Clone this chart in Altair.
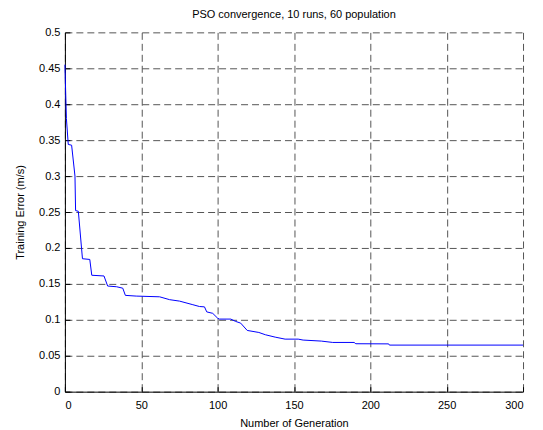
import altair as alt
import pandas as pd

# Generation index and best training error
generation = [0, 1, 2.2, 4.4, 6.6, 7, 8.8, 11.5, 16.3, 17.6, 25.6, 28, 33.9, 37.9,
              39.6, 46.7, 62, 68.6, 75.1, 83.8, 88.1, 91.4, 92.9, 96.8, 100, 101.1,
              108.6, 111.9, 115.1, 119.4, 127, 131.3, 137.7, 144.2, 152.8, 156,
              167.9, 175.4, 189.4, 190.5, 212, 212.5, 300]
error = [0.455, 0.38, 0.344, 0.343, 0.300, 0.252, 0.251, 0.185, 0.184, 0.162, 0.161,
         0.147, 0.146, 0.144, 0.134, 0.133, 0.132, 0.128, 0.126, 0.121, 0.1185, 0.118,
         0.111, 0.109, 0.1023, 0.101, 0.101, 0.0977, 0.0954, 0.0852, 0.0824, 0.0792,
         0.0759, 0.0731, 0.0731, 0.0718, 0.0704, 0.0685, 0.0685, 0.0667, 0.0665,
         0.0648, 0.0648]

x_ticks = [0, 50, 100, 150, 200, 250, 300]
y_ticks = [0, 0.05, 0.1, 0.15, 0.2, 0.25, 0.3, 0.35, 0.4, 0.45, 0.5]

df = pd.DataFrame({"gen": generation, "err": error})

FONT = "Liberation Sans"
x_scale = alt.Scale(domain=[0, 300], nice=False, zero=False)
y_scale = alt.Scale(domain=[0, 0.5], nice=False, zero=False)

# Layer carrying the main axes (domain, labels, dashed grid)
main = alt.Chart(df).mark_line(color="#0000FF", strokeWidth=1, interpolate="linear").encode(
    x=alt.X("gen:Q", scale=x_scale, title="Number of Generation",
            axis=alt.Axis(orient="bottom", values=x_ticks, ticks=False, tickSize=0,
                          domain=True, domainColor="#000", domainWidth=1,
                          labels=True, labelPadding=8, labelFont=FONT, labelFontSize=11,
                          labelColor="#000", labelAngle=0,
                          grid=True, gridDash=[7, 4], gridColor="#555", gridWidth=1,
                          titleFont=FONT, titleFontSize=11, titleFontWeight="normal",
                          titleColor="#000", titlePadding=7)),
    y=alt.Y("err:Q", scale=y_scale, title="Training Error (m/s)",
            axis=alt.Axis(orient="left", values=y_ticks, format="~g", ticks=False, tickSize=0,
                          domain=True, domainColor="#000", domainWidth=1,
                          labels=True, labelPadding=5, labelFont=FONT, labelFontSize=11,
                          labelColor="#000",
                          grid=True, gridDash=[7, 4], gridColor="#555", gridWidth=1,
                          titleFont=FONT, titleFontSize=11, titleFontWeight="normal",
                          titleColor="#000", titlePadding=13)),
)

# Layer carrying inward tick marks only (axes shifted into the plot area)
ticks = alt.Chart(df).mark_line(opacity=0).encode(
    x=alt.X("gen:Q", scale=x_scale, title=None,
            axis=alt.Axis(orient="bottom", values=x_ticks, offset=-5, ticks=True, tickSize=5,
                          tickColor="#000", tickWidth=1, domain=False, labels=False, grid=False)),
    y=alt.Y("err:Q", scale=y_scale, title=None,
            axis=alt.Axis(orient="left", values=y_ticks, offset=-5, ticks=True, tickSize=5,
                          tickColor="#000", tickWidth=1, domain=False, labels=False, grid=False)),
)

chart = alt.layer(ticks, main).resolve_axis(x="independent", y="independent").properties(
    width=459,
    height=360,
    title=alt.TitleParams("PSO convergence, 10 runs, 60 population", font=FONT, fontSize=11,
                          fontWeight="normal", color="#000", offset=6, anchor="middle"),
    padding={"left": 6, "top": 1, "right": 10, "bottom": 0},
).configure_view(stroke=None)

chart.save("out.html", embed_options={"renderer": "svg", "actions": False})
